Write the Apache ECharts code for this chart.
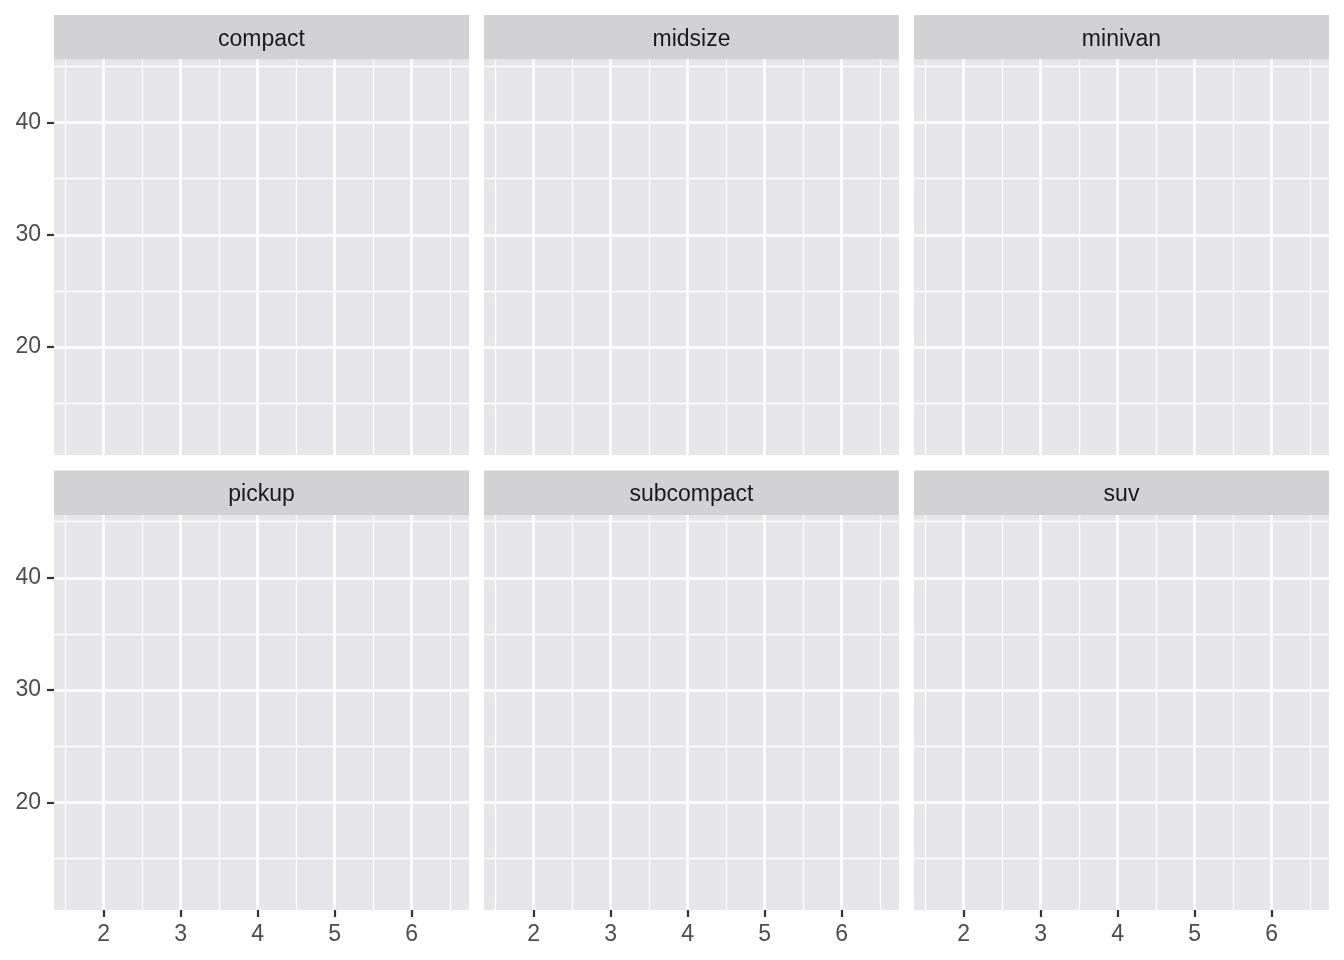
<!DOCTYPE html>
<html>
<head>
<meta charset="utf-8">
<script src="https://cdn.jsdelivr.net/npm/echarts@6/dist/echarts.min.js"></script>
<style>
  html, body { margin: 0; padding: 0; background: #fff; }
  #chart { width: 1344px; height: 960px; }
</style>
</head>
<body>
<div id="chart"></div>
<script>
// facet names (class of car), 3 x 2 wrap
const classes = ["compact", "midsize", "minivan", "pickup", "subcompact", "suv"];

// axis extents (displ 1.6-6.5, hwy 12-44, with 5% expansion)
const xRange = [1.355, 6.745];
const yRange = [10.4, 45.6];

// breaks
const xMajor = [2, 3, 4, 5, 6];
const xMinor = [1.5, 2.5, 3.5, 4.5, 5.5, 6.5];
const yMajor = [20, 30, 40];
const yMinor = [15, 25, 35, 45];

// no observations are drawn in the panels
const points = [];

const chart = echarts.init(document.getElementById("chart"));

// layout
const colLeft = [54, 484, 914];
const panelW = 415;
const rows = [
  { strip: 15, top: 59.5, h: 395.5 },
  { strip: 470.5, top: 515, h: 395 },
];
const stripH = 44.5;

const font = "Liberation Sans, Arial, Helvetica, sans-serif";
const panelColor = "#e6e5e9";
const stripColor = "#d2d1d4";

const grids = [];
const xAxes = [];
const yAxes = [];
const series = [];
const graphics = [];

classes.forEach((name, i) => {
  const col = i % 3;
  const row = Math.floor(i / 3);
  const r = rows[row];

  grids.push({
    left: colLeft[col],
    top: r.top,
    width: panelW,
    height: r.h,
    show: true,
    backgroundColor: panelColor,
    borderWidth: 0,
  });

  const showX = row === 1;
  const showY = col === 0;

  xAxes.push({
    gridIndex: i,
    type: "value",
    min: xRange[0],
    max: xRange[1],
    axisLine: { show: false },
    splitLine: { show: false },
    axisTick: {
      show: showX,
      customValues: xMajor,
      length: 7,
      lineStyle: { color: "#333333", width: 2.2 },
    },
    axisLabel: {
      show: showX,
      customValues: xMajor,
      margin: 13,
      color: "#4d4d4d",
      fontSize: 23,
      fontFamily: font,
    },
  });

  yAxes.push({
    gridIndex: i,
    type: "value",
    min: yRange[0],
    max: yRange[1],
    axisLine: { show: false },
    splitLine: { show: false },
    axisTick: {
      show: showY,
      customValues: yMajor,
      length: 7,
      lineStyle: { color: "#333333", width: 2.2 },
    },
    axisLabel: {
      show: showY,
      customValues: yMajor,
      margin: 13,
      color: "#4d4d4d",
      fontSize: 23,
      fontFamily: font,
    },
  });

  const minorStyle = { color: "#ffffff", width: 1.3, type: "solid", opacity: 1 };
  const majorStyle = { color: "#ffffff", width: 2.6, type: "solid", opacity: 1 };

  series.push({
    type: "scatter",
    xAxisIndex: i,
    yAxisIndex: i,
    data: points,
    silent: true,
    markLine: {
      silent: true,
      animation: false,
      symbol: ["none", "none"],
      label: { show: false },
      emphasis: { disabled: true },
      data: [
        ...xMinor.map((v) => ({ xAxis: v, lineStyle: minorStyle })),
        ...yMinor.map((v) => ({ yAxis: v, lineStyle: minorStyle })),
        ...xMajor.map((v) => ({ xAxis: v, lineStyle: majorStyle })),
        ...yMajor.map((v) => ({ yAxis: v, lineStyle: majorStyle })),
      ],
    },
  });

  // facet strip
  graphics.push({
    type: "rect",
    left: colLeft[col],
    top: r.strip,
    shape: { width: panelW, height: stripH },
    style: { fill: stripColor },
    silent: true,
  });
  graphics.push({
    type: "text",
    x: colLeft[col] + panelW / 2,
    y: r.strip + stripH / 2 + 2,
    style: {
      text: name,
      fill: "#1a1a1a",
      font: "23px " + font,
      textAlign: "center",
      textVerticalAlign: "middle",
    },
    silent: true,
  });
});

chart.setOption({
  backgroundColor: "#ffffff",
  animation: false,
  grid: grids,
  xAxis: xAxes,
  yAxis: yAxes,
  series: series,
  graphic: graphics,
});

window.addEventListener("resize", chart.resize);
</script>
</body>
</html>
